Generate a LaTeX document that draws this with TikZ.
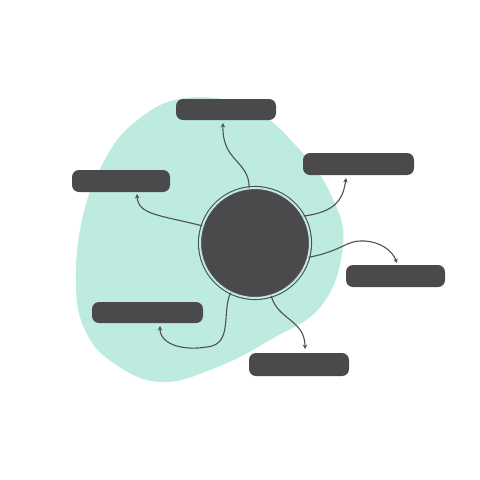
\documentclass[tikz,border=0pt]{standalone}
\usetikzlibrary{arrows.meta}
\definecolor{blobc}{HTML}{BDEBE0}
\definecolor{darkc}{HTML}{4A494B}
\definecolor{linec}{HTML}{505052}
\tikzset{
  bar/.style={fill=darkc, rounded corners=7pt, inner sep=0pt},
  link/.style={draw=linec, line width=1.1pt, -{Stealth[length=4.5pt,width=4.5pt]}},
}
\begin{document}
\begin{tikzpicture}[x=1pt,y=-1pt]
\useasboundingbox (0,0) rectangle (480,480);
\fill[blobc] plot[smooth cycle, tension=0.7] coordinates {(76,285) (82,220) (103,163) (135,122) (185,98) (250,108) (300,150) (332,197) (343,245) (322,305) (270,340) (215,368) (160,382) (112,362) (85,330)};
\node[bar, minimum width=100pt, minimum height=21pt] (b1) at (226,109.5) {};
\node[bar, minimum width=98pt, minimum height=22pt] (b2) at (121,181) {};
\node[bar, minimum width=111pt, minimum height=22pt] (b3) at (358.5,164) {};
\node[bar, minimum width=99pt, minimum height=22pt] (b4) at (395.5,276) {};
\node[bar, minimum width=111pt, minimum height=21pt] (b5) at (147.5,312.5) {};
\node[bar, minimum width=100pt, minimum height=23pt] (b6) at (299,364.5) {};
\node[circle, minimum size=110pt, inner sep=0pt, fill=darkc, draw=linec, line width=1.1pt, double=blobc, double distance=2pt] (hub) at (255,243) {};
\coordinate (ea) at (223,123);
\coordinate (eb) at (137,194);
\coordinate (ec) at (346,178);
\coordinate (ed) at (397,263);
\coordinate (ee) at (160,326);
\coordinate (ef) at (305,349);
\draw[link] (hub.96) .. controls (249,160) and (222,162) .. (ea);
\draw[link] (hub.162) .. controls (160,215) and (138,215) .. (eb);
\draw[link] (hub.29) .. controls (335,212) and (343,200) .. (ec);
\draw[link] (hub.-15) .. controls (345,250) and (345,240) .. (365,241) .. controls (380,242) and (392,250) .. (ed);
\draw[link] (hub.244) .. controls (222,310) and (232,340) .. (212,346) .. controls (185,352) and (160,345) .. (ee);
\draw[link] (hub.287) .. controls (278,320) and (305,320) .. (ef);
\end{tikzpicture}
\end{document}
